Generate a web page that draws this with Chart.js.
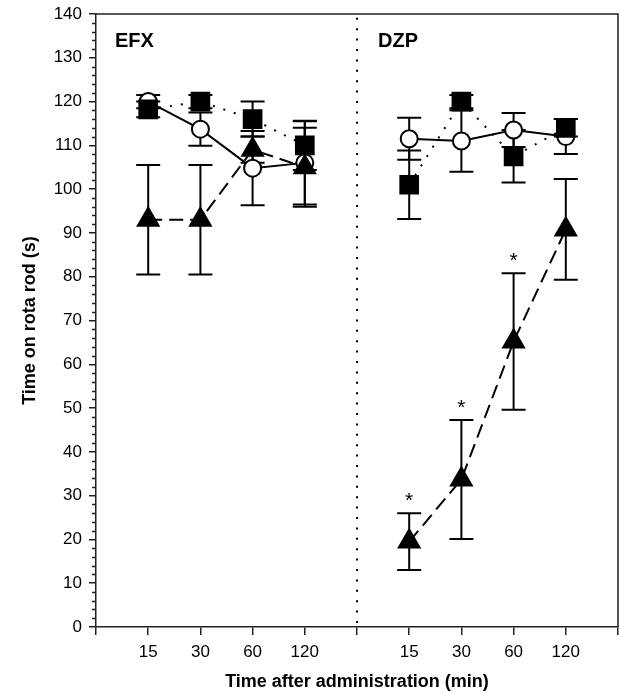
<!DOCTYPE html>
<html>
<head>
<meta charset="utf-8">
<script src="https://cdn.jsdelivr.net/npm/chart.js@4/dist/chart.umd.min.js"></script>
<style>
  html, body { margin: 0; padding: 0; background: #fff; overflow: hidden; }
  canvas { display: block; }
</style>
</head>
<body>
<canvas id="chart" width="620" height="693"></canvas>
<script>
// x slots: 1-4 = EFX, 6-9 = DZP, 5 = divider
const groups = ["EFX", "DZP"];
const timeLabels = ["15", "30", "60", "120"];
const xSlots = [1, 2, 3, 4, 6, 7, 8, 9];
const dividerSlot = 5;

// open circles (solid line)
const circleMean = [120, 113.7, 104.8, 106, 111.5, 111, 113.5, 112];
const circleErr  = [1.5, 3.8, 8.5, 9.5, 4.8, 7, 3.9, 4];
// filled squares (dotted line)
const squareMean = [118.2, 120, 116, 110, 101, 120, 107.5, 114];
const squareErr  = [1.8, 1.5, 4, 5.6, 7.8, 1.5, 6, 2];
// filled triangles (dashed line)
const triMean = [93, 93, 109, 105, 19.5, 33.7, 65.2, 90.8];
const triErr  = [12.5, 12.5, 3, 9, 6.5, 13.6, 15.6, 11.5];
// significance marks
const sigMark = [false, false, false, false, true, true, true, false];

const yTicks = [0, 10, 20, 30, 40, 50, 60, 70, 80, 90, 100, 110, 120, 130, 140];

const INK = "#000";
const AXIS = "#222";
const FONT = "'Liberation Sans', Arial, sans-serif";

function toPoints(means) {
  const pts = [];
  xSlots.forEach((x, i) => {
    if (x === dividerSlot + 1) pts.push({ x: dividerSlot, y: null });
    pts.push({ x, y: means[i] });
  });
  return pts;
}

const errSets = [
  { mean: triMean, err: triErr },
  { mean: squareMean, err: squareErr },
  { mean: circleMean, err: circleErr },
];

const errorBars = {
  id: "errorBars",
  beforeDatasetsDraw(chart) {
    const { ctx, scales: { x, y } } = chart;
    ctx.save();
    ctx.strokeStyle = INK;
    ctx.lineWidth = 2;
    const cap = 12;
    errSets.forEach(s => {
      xSlots.forEach((slot, i) => {
        const px = x.getPixelForValue(slot);
        const hi = y.getPixelForValue(s.mean[i] + s.err[i]);
        const lo = y.getPixelForValue(s.mean[i] - s.err[i]);
        ctx.beginPath();
        ctx.moveTo(px, hi); ctx.lineTo(px, lo);
        ctx.moveTo(px - cap, hi); ctx.lineTo(px + cap, hi);
        ctx.moveTo(px - cap, lo); ctx.lineTo(px + cap, lo);
        ctx.stroke();
      });
    });
    ctx.restore();
  }
};

const decorations = {
  id: "decorations",
  beforeDatasetsDraw(chart) {
    const { ctx, chartArea: a, scales: { x } } = chart;
    // dotted divider between the two drugs
    const dx = Math.round(x.getPixelForValue(dividerSlot));
    ctx.save();
    ctx.strokeStyle = INK;
    ctx.lineWidth = 2;
    ctx.setLineDash([2, 8.4]);
    ctx.beginPath();
    ctx.moveTo(dx, a.bottom - 4);
    ctx.lineTo(dx, a.top);
    ctx.stroke();
    ctx.restore();
  },
  afterDraw(chart) {
    const { ctx, chartArea: a, scales: { x, y } } = chart;
    ctx.save();
    // frame top + right
    ctx.strokeStyle = AXIS;
    ctx.lineWidth = 1.5;
    ctx.beginPath();
    ctx.moveTo(a.left, a.top); ctx.lineTo(a.right, a.top); ctx.lineTo(a.right, a.bottom);
    ctx.stroke();
    // minor y ticks
    ctx.beginPath();
    for (let v = 2; v < 140; v += 2) {
      if (v % 10 === 0) continue;
      const py = Math.round(y.getPixelForValue(v)) + 0.5;
      ctx.moveTo(a.left - 4, py); ctx.lineTo(a.left, py);
    }
    ctx.stroke();
    // group labels
    ctx.fillStyle = INK;
    ctx.font = "bold 20px " + FONT;
    ctx.textAlign = "left";
    ctx.textBaseline = "alphabetic";
    ctx.fillText(groups[0], x.getPixelForValue(0) + 19, a.top + 33);
    ctx.fillText(groups[1], x.getPixelForValue(dividerSlot) + 21, a.top + 33);
    // asterisks
    ctx.font = "21px " + FONT;
    ctx.textAlign = "center";
    xSlots.forEach((slot, i) => {
      if (!sigMark[i]) return;
      const top = y.getPixelForValue(triMean[i] + triErr[i]);
      ctx.fillText("*", x.getPixelForValue(slot), top - 6);
    });
    ctx.restore();
  }
};

const ds = (label, means, style, radius, fill, dash) => ({
  label,
  data: toPoints(means),
  borderColor: INK,
  borderWidth: 2,
  borderDash: dash,
  pointStyle: style,
  pointRadius: radius,
  pointHoverRadius: radius,
  pointBackgroundColor: fill,
  pointBorderColor: INK,
  pointBorderWidth: 2,
  spanGaps: false,
  fill: false,
  tension: 0,
});

new Chart(document.getElementById("chart"), {
  type: "line",
  data: {
    datasets: [
      ds("Triangle", triMean, "triangle", 12, INK, [14, 7]),
      ds("Square", squareMean, "rect", 12.5, INK, [2, 9]),
      ds("Circle", circleMean, "circle", 8.5, "#fff", []),
    ]
  },
  options: {
    responsive: false,
    animation: false,
    layout: { autoPadding: false, padding: { left: 0, right: 2, top: 14, bottom: 0 } },
    plugins: { legend: { display: false }, tooltip: { enabled: false } },
    scales: {
      x: {
        type: "linear",
        min: 0,
        max: 10,
        afterFit: s => { s.height = 66; s.paddingLeft = 0; s.paddingRight = 0; },
        afterBuildTicks: s => { s.ticks = Array.from({ length: 11 }, (_, i) => ({ value: i })); },
        ticks: {
          autoSkip: false,
          maxRotation: 0,
          padding: 7,
          color: INK,
          font: { family: FONT, size: 17 },
          callback: v => {
            const i = xSlots.indexOf(v);
            return i < 0 ? "" : timeLabels[i % 4];
          }
        },
        grid: { drawOnChartArea: false, tickLength: 8, color: AXIS, lineWidth: 1.5 },
        border: { color: AXIS, width: 1.5 },
        title: {
          display: true,
          text: "Time after administration (min)",
          color: INK,
          font: { family: FONT, size: 18, weight: "bold" },
          padding: { top: 0, bottom: 0 }
        }
      },
      y: {
        min: 0,
        max: 140,
        afterFit: s => { s.width = 96; s.paddingTop = 0; s.paddingBottom = 0; },
        afterBuildTicks: s => { s.ticks = yTicks.map(v => ({ value: v })); },
        ticks: {
          padding: 7,
          color: INK,
          font: { family: FONT, size: 17 }
        },
        grid: { drawOnChartArea: false, tickLength: 7, color: AXIS, lineWidth: 1.5 },
        border: { color: AXIS, width: 1.5 },
        title: {
          display: true,
          text: "Time on rota rod (s)",
          color: INK,
          font: { family: FONT, size: 18, weight: "bold" },
          padding: { top: 19, bottom: 0 }
        }
      }
    }
  },
  plugins: [errorBars, decorations]
});
</script>
</body>
</html>
